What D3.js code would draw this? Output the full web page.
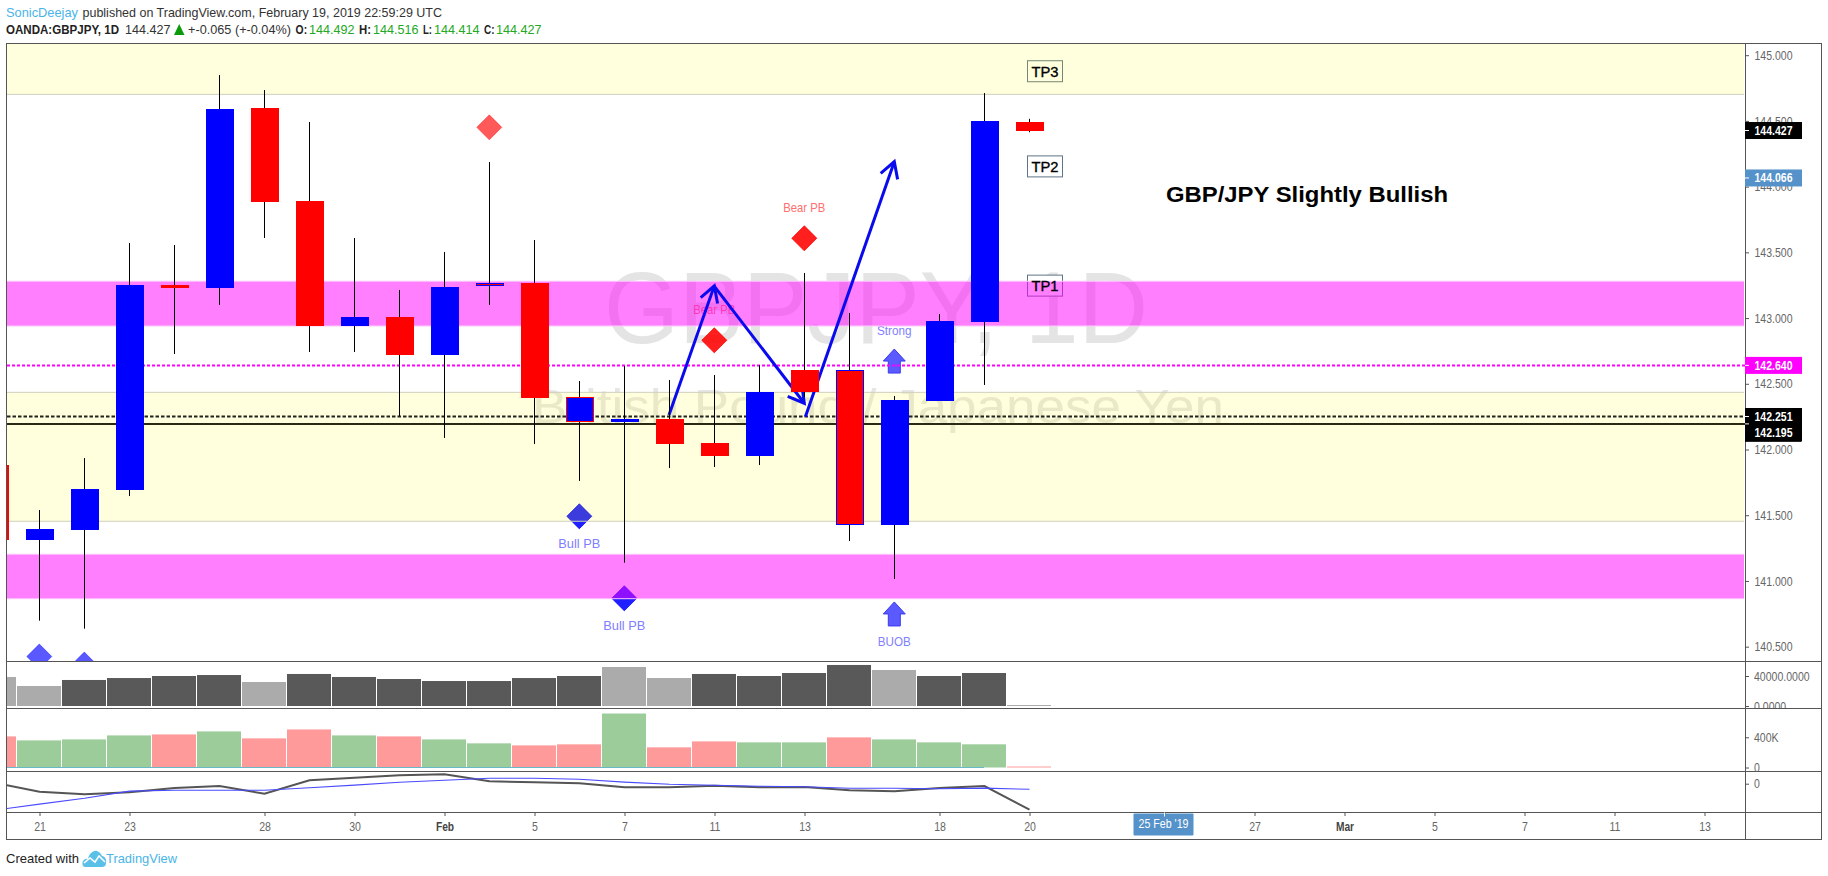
<!DOCTYPE html>
<html><head><meta charset="utf-8">
<script src="https://cdnjs.cloudflare.com/ajax/libs/d3/7.8.5/d3.min.js"></script>
<style>html,body{margin:0;padding:0;background:#fff;overflow:hidden}svg{display:block}text{font-family:"Liberation Sans",Arial,sans-serif}</style>
</head><body><div id="c"></div>
<script>
// ---------- data ----------
const sessions=["Jan 18","Jan 21","Jan 22","Jan 23","Jan 24","Jan 25","Jan 28","Jan 29","Jan 30","Jan 31","Feb 1","Feb 4","Feb 5","Feb 6","Feb 7","Feb 8","Feb 11","Feb 12","Feb 13","Feb 14","Feb 15","Feb 18","Feb 19","Feb 20"];
const opens =[141.882,141.312,141.388,141.692,143.252,143.229,144.598,143.891,142.940,143.008,142.719,143.267,143.267,142.209,142.209,142.232,142.050,141.951,142.605,142.605,141.426,142.369,142.970,144.492];
const highs =[141.882,141.540,141.935,143.571,143.556,144.849,144.735,144.492,143.609,143.214,143.503,144.187,143.594,142.521,142.635,142.529,142.567,142.643,143.343,143.039,142.407,143.031,144.712,144.516];
const lows  =[141.312,140.698,140.637,141.646,142.727,143.100,143.609,142.742,142.742,142.255,142.088,143.100,142.042,141.761,141.139,141.859,141.867,141.882,142.400,141.304,141.015,142.369,142.491,144.414];
const closes=[141.312,141.395,141.700,143.252,143.229,144.591,143.883,142.940,143.008,142.719,143.236,143.244,142.392,142.400,142.232,142.042,141.951,142.434,142.434,141.426,142.377,142.978,144.499,144.427];
const outlined=["Feb 4","Feb 6","Feb 14"];
const volumes=[38700,26700,34700,37300,40000,41300,32000,42700,38700,36000,33300,33300,37300,40000,52000,37300,42700,40000,44000,54700,48000,40000,44000,1300];
const lightVolume=["Jan 18","Jan 21","Jan 28","Feb 7","Feb 8","Feb 15","Feb 20"];
const histValues=[412,359,372,425,438,478,386,504,425,412,372,320,293,307,715,267,346,333,333,399,372,333,307,13];
const histRed=["Jan 18","Jan 24","Jan 28","Jan 29","Jan 31","Feb 5","Feb 6","Feb 8","Feb 11","Feb 14","Feb 20"];
const oscFast=[0.05,-0.40,-0.53,-0.43,-0.22,-0.12,-0.50,0.17,0.30,0.42,0.47,0.12,0.07,0.02,-0.18,-0.18,-0.10,-0.18,-0.17,-0.33,-0.38,-0.22,-0.12,-1.30];
const oscSlow=[-1.32,-1.02,-0.73,-0.37,-0.33,-0.33,-0.33,-0.20,-0.07,0.07,0.17,0.27,0.27,0.22,0.08,-0.03,-0.08,-0.13,-0.15,-0.23,-0.23,-0.25,-0.22,-0.28];
const zoneTop=[145.2,143.280,142.435,141.203];
const zoneBottom=[144.702,142.940,141.454,140.865];
const zoneKind=["y","m","y","m"];
const priceLineValues=[142.640,142.251,142.195];
const diamondDay=["Jan 21","Jan 22","Feb 4","Feb 6","Feb 7","Feb 11","Feb 13"];
const diamondPrice=[140.425,140.364,144.451,141.492,140.868,142.831,143.607];
const diamondKind=["bull","bull","bear","bull","bull","bear","bear"];
const diamondLayers=[1,1,1,2,2,2,2];
const diamondLabel=["","","","Bull PB","Bull PB","Bear PB","Bear PB"];
const upArrowDay=["Feb 15","Feb 15"];
const upArrowPrice=[142.673,140.749];
const upArrowLabel=["Strong","BUOB"];
const tradeFromDay=["Feb 8","Feb 11","Feb 13"];
const tradeFromPrice=[142.263,143.245,142.250];
const tradeToDay=["Feb 11","Feb 13","Feb 15"];
const tradeToPrice=[143.245,142.352,144.190];
const targetLabels=["TP3","TP2","TP1"];
const targetPrice=[144.878,144.154,143.247];
const priceTicks=[145,144.5,144,143.5,143,142.5,142,141.5,141,140.5];
const timeTickDay=[1,3,6,8,10,12,14,16,18,21,23,26,28,30,32,34,36,38];
const timeTickText=["21","23","28","30","Feb","5","7","11","13","18","20","25 Feb '19","27","Mar","5","7","11","13"];
const volumeTicks=[40000,0];
const histTicks=[400,0];
const priceTags=[[144.427,"#000"],[144.066,"#5592c9"],[142.640,"#ff00ff"]];

// ---------- layout ----------
const W=1828,H=876,L=6.5,R=1821.5,AX=1745,T=43.5,P1=661.5,P2=708.5,P3=771.5,P4=812.5,B=839.5;
const svg=d3.select("#c").append("svg").attr("width",W).attr("height",H);
const x=d3.scaleLinear().domain([0,39]).range([-5,1750]);
const px=d=>x(sessions.indexOf(d));
const y=d3.scaleLinear().domain([145.089,140.391]).range([43.5,661]);
const yVol=d3.scaleLinear().domain([0,40000]).range([706,676]);
const yHist=d3.scaleLinear().domain([0,400]).range([767.5,737.3]);
const yOsc=d3.scaleLinear().domain([0,1]).range([783.7,763.7]);
const defs=svg.append("defs");
const clip=(id,a,b)=>defs.append("clipPath").attr("id",id).append("rect").attr("x",7).attr("y",a).attr("width",AX-7).attr("height",b-a);
clip("cMain",44,661);clip("cVol",662,708);clip("cHist",709,771);clip("cOsc",772,812);
defs.append("clipPath").attr("id","cVolAxis").append("rect").attr("x",AX).attr("y",662).attr("width",80).attr("height",46);
defs.append("clipPath").attr("id","cHistAxis").append("rect").attr("x",AX).attr("y",709).attr("width",80).attr("height",62);

function squeeze(sel,k){sel.each(function(){const l=this.getComputedTextLength();d3.select(this).attr("textLength",l*k).attr("lengthAdjust","spacingAndGlyphs");});return sel;}
function label(g,tx,ty,s,o={}){
  const t=g.append("text").attr("x",tx).attr("y",ty).text(s).attr("font-size",o.size||12).attr("fill",o.fill||"#222")
    .attr("font-weight",o.weight||"normal").attr("text-anchor",o.anchor||"start");
  if(o.w) t.attr("textLength",o.w).attr("lengthAdjust","spacingAndGlyphs");
  else if(o.k) squeeze(t,o.k);
  return t;
}

// ---------- main pane ----------
const main=svg.append("g").attr("clip-path","url(#cMain)");
label(main,876,343,"GBPJPY, 1D",{size:102,fill:"#e4e4e4",anchor:"middle",w:544});
label(main,878,423,"British Pound / Japanese Yen",{size:49,fill:"#e6e6e6",anchor:"middle",w:692});

// markers sit under the zones
const markers=main.append("g");
const symD=d3.symbol().type(d3.symbolSquare).size(312);
diamondDay.forEach((d,i)=>{
  const c=diamondKind[i]==="bull"?"rgba(0,0,255,.65)":"rgba(255,0,0,.65)";
  const cx=px(d)-.7,cy=y(diamondPrice[i]);
  for(let n=0;n<diamondLayers[i];n++)
    markers.append("path").attr("d",symD()).attr("transform",`translate(${cx},${cy}) rotate(45)`).attr("fill",c).attr("stroke",c).attr("stroke-width",.6).attr("stroke-linejoin","round");
  if(diamondLabel[i]){
    const bull=diamondKind[i]==="bull";
    label(markers,cx,cy+(bull?31.5:-26.7),diamondLabel[i],{size:13,fill:bull?"#7f7fff":"#ff6f6f",anchor:"middle",w:diamondLabel[i].length*6});
  }
});
const arrowLine=d3.line();
upArrowDay.forEach((d,i)=>{
  const cx=px(d)-.7,cy=y(upArrowPrice[i]);
  const pts=[[0,-12],[11,0],[6,0],[6,12],[-6,12],[-6,0],[-11,0]];
  markers.append("path").attr("d",arrowLine(pts)+"Z").attr("transform",`translate(${cx},${cy})`).attr("fill","#5a5aff").attr("stroke","#3a3aee").attr("stroke-width",1);
  label(markers,cx,cy+(i===0?-26:32),upArrowLabel[i],{size:13,fill:"#7f7fff",anchor:"middle",w:upArrowLabel[i].length===6?34.5:33});
});

// target boxes
targetLabels.forEach((s,i)=>{
  const cy=y(targetPrice[i]);
  main.append("rect").attr("x",1027.5).attr("y",cy-10.5).attr("width",35).attr("height",21).attr("fill","#fff").attr("stroke","#5f7587").attr("stroke-width",1);
});
label(main,1166,201.5,"GBP/JPY Slightly Bullish",{size:22,fill:"#000",weight:"bold",w:282});

// zones
zoneTop.forEach((t,i)=>{
  const m=zoneKind[i]==="m";
  main.append("rect").attr("x",7).attr("width",AX-1-7).attr("y",y(t)).attr("height",y(zoneBottom[i])-y(t))
    .attr("fill",m?"rgba(255,0,255,.5)":"rgba(255,255,0,.135)");
  [t,zoneBottom[i]].forEach(v=>{ if(v<145.089) main.append("line").attr("x1",7).attr("x2",AX-1).attr("y1",y(v)).attr("y2",y(v)).attr("stroke",m?"#ffc2ff":"#cfcfbd").attr("stroke-width",1); });
});
targetLabels.forEach((s,i)=>{
  label(main,1045,y(targetPrice[i])+5.5,s,{size:15,fill:"#000",anchor:"middle",w:27}).attr("stroke","#000").attr("stroke-width",.35);
});

// horizontal lines
main.append("line").attr("x1",7).attr("x2",AX).attr("y1",y(priceLineValues[0])).attr("y2",y(priceLineValues[0])).attr("stroke","#ff00ff").attr("stroke-width",2).attr("stroke-dasharray","3 2");
main.append("line").attr("x1",7).attr("x2",AX).attr("y1",y(priceLineValues[1])).attr("y2",y(priceLineValues[1])).attr("stroke","#222").attr("stroke-width",2).attr("stroke-dasharray","3.5 2");
main.append("line").attr("x1",7).attr("x2",AX).attr("y1",y(priceLineValues[2])).attr("y2",y(priceLineValues[2])).attr("stroke","#2a2a14").attr("stroke-width",2);

// trade arrows
tradeFromDay.forEach((d,i)=>{
  const x1=px(d)-1+(i===2?1.4:0),y1=y(tradeFromPrice[i]),x2=px(tradeToDay[i])-.7,y2=y(tradeToPrice[i]);
  const a=Math.atan2(y2-y1,x2-x1),len=18,sp=.52;
  const g=main.append("g").attr("fill","none").attr("stroke","#0a0aee").attr("stroke-width",3);
  g.append("path").attr("d",arrowLine([[x1,y1],[x2,y2]]));
  g.append("path").attr("d",arrowLine([[x2-len*Math.cos(a-sp),y2-len*Math.sin(a-sp)],[x2,y2],[x2-len*Math.cos(a+sp),y2-len*Math.sin(a+sp)]]));
});

// candles
const cg=main.append("g");
sessions.forEach((d,i)=>{
  const cx=x(i);
  cg.append("rect").attr("x",cx-1).attr("width",1).attr("y",y(highs[i])).attr("height",y(lows[i])-y(highs[i])).attr("fill","#000");
});
sessions.forEach((d,i)=>{
  const cx=x(i),up=closes[i]>=opens[i],fill=up?"#0000ff":"#ff0000";
  const top=Math.round(y(Math.max(opens[i],closes[i]))),bot=Math.round(y(Math.min(opens[i],closes[i])));
  const r=cg.append("rect").attr("fill",fill);
  if(outlined.includes(d)) r.attr("x",cx-13.5).attr("width",27).attr("y",top+.5).attr("height",Math.max(bot-top-1,1)).attr("stroke",up?"#ff0000":"#0000ff").attr("stroke-width",1);
  else r.attr("x",cx-14).attr("width",28).attr("y",top).attr("height",Math.max(bot-top,1));
});

// ---------- volume pane ----------
const vol=svg.append("g").attr("clip-path","url(#cVol)");
vol.selectAll("rect").data(sessions).join("rect")
  .attr("x",(d,i)=>x(i)-23).attr("width",44)
  .attr("y",(d,i)=>yVol(volumes[i])).attr("height",(d,i)=>yVol(0)-yVol(volumes[i]))
  .attr("fill",d=>lightVolume.includes(d)?"#ababab":"#595959");

// ---------- histogram pane ----------
const hist=svg.append("g").attr("clip-path","url(#cHist)");
hist.selectAll("rect").data(sessions).join("rect")
  .attr("x",(d,i)=>x(i)-23).attr("width",44)
  .attr("y",(d,i)=>yHist(histValues[i])).attr("height",(d,i)=>yHist(0)-yHist(histValues[i]))
  .attr("fill",d=>histRed.includes(d)?"#ff9a9a":"#9ccc9a");
hist.append("line").attr("x1",7).attr("x2",x(sessions.length-2)-1).attr("y1",yHist(0)).attr("y2",yHist(0)).attr("stroke","#68b8c8").attr("stroke-width",1);

// ---------- oscillator pane ----------
const osc=svg.append("g").attr("clip-path","url(#cOsc)");
const oscLine=s=>d3.line().x((d,i)=>x(i)-.5).y(d=>yOsc(d))(s);
osc.append("path").attr("d",oscLine(oscFast)).attr("fill","none").attr("stroke","#555").attr("stroke-width",2);
osc.append("path").attr("d",oscLine(oscSlow)).attr("fill","none").attr("stroke","#4a4aff").attr("stroke-width",1.1);

// ---------- frame ----------
const frame=svg.append("g").attr("stroke","#555").attr("stroke-width",1);
frame.append("rect").attr("x",L).attr("y",T).attr("width",R-L).attr("height",B-T).attr("fill","none");
[P1,P2,P3,P4].forEach(v=>frame.append("line").attr("x1",L).attr("x2",R).attr("y1",v).attr("y2",v));
frame.append("line").attr("x1",AX+.5).attr("x2",AX+.5).attr("y1",T).attr("y2",B);

// ---------- axes ----------
function styleAxis(g,color){
  g.select(".domain").remove();
  g.selectAll(".tick line").attr("stroke","#555");
  g.selectAll("text").attr("font-family",'"Liberation Sans",Arial,sans-serif').attr("font-size",13).attr("fill",color||"#666");
  squeeze(g.selectAll("text"),.81);
}
const axP=svg.append("g").attr("transform",`translate(${AX},0)`).call(d3.axisRight(y).tickValues(priceTicks).tickFormat(d3.format(".3f")).tickSize(4).tickPadding(5.5));
styleAxis(axP);
const axV=svg.append("g").attr("clip-path","url(#cVolAxis)").append("g").attr("transform",`translate(${AX},0)`).call(d3.axisRight(yVol).tickValues(volumeTicks).tickFormat(d3.format(".4f")).tickSize(4).tickPadding(5));
styleAxis(axV);
const axH=svg.append("g").attr("clip-path","url(#cHistAxis)").append("g").attr("transform",`translate(${AX},0)`).call(d3.axisRight(yHist).tickValues(histTicks).tickFormat(d=>d?d+"K":"0").tickSize(4).tickPadding(5));
styleAxis(axH);
const axO=svg.append("g").attr("transform",`translate(${AX},0)`).call(d3.axisRight(yOsc).tickValues([0]).tickSize(4).tickPadding(5).tickFormat(d3.format("d")));
styleAxis(axO);

// time axis
const axT=svg.append("g").attr("transform",`translate(0,${P4-.5})`).call(d3.axisBottom(x).tickValues(timeTickDay).tickFormat((d,i)=>timeTickText[i]).tickSize(4).tickPadding(6));
axT.selectAll(".tick").attr("transform",function(){const m=/translate\(([-\d.]+)/.exec(this.getAttribute("transform"));return `translate(${+m[1]-.5},0)`;});
styleAxis(axT);
axT.selectAll("text").filter(function(){return /^(Feb|Mar)$/.test(this.textContent);}).attr("fill","#444").attr("font-weight","bold");
// date tag replaces the tick's own label
axT.selectAll(".tick").filter(d=>d===26).select("text").remove();
const tagX=x(26)-.5;
const tag=svg.append("g");
tag.append("rect").attr("x",tagX-31).attr("y",P4+1).attr("width",60).attr("height",22).attr("rx",1).attr("fill","#5592c9");
tag.append("line").attr("x1",tagX).attr("x2",tagX).attr("y1",P4).attr("y2",P4+4).attr("stroke","#fff");
label(tag,tagX-1,828,timeTickText[timeTickDay.indexOf(26)],{size:13,fill:"#fff",anchor:"middle",w:50});

// price tags
const tags=svg.append("g");
function priceTag(v,color,text,cy){
  tags.append("rect").attr("x",AX).attr("y",cy-8.5).attr("width",57).attr("height",17).attr("fill",color);
  tags.append("line").attr("x1",AX).attr("x2",AX+4).attr("y1",y(v)).attr("y2",y(v)).attr("stroke","#fff");
  label(tags,AX+9.5,cy+4.3,text,{size:12.5,weight:"bold",fill:"#fff",w:38});
}
priceTags.forEach(([v,c])=>priceTag(v,c,d3.format(".3f")(v),y(v)));
tags.append("rect").attr("x",AX).attr("y",408).attr("width",56).attr("height",33.7).attr("fill","#000");
priceTag(priceLineValues[1],"#000",d3.format(".3f")(priceLineValues[1]),416.5);
priceTag(priceLineValues[2],"#000",d3.format(".3f")(priceLineValues[2]),433);

// ---------- header / footer ----------
const hd=svg.append("g");
label(hd,6,16.5,"SonicDeejay",{size:13,fill:"#4ab4e8",w:72});
label(hd,82.5,16.5,"published on TradingView.com, February 19, 2019 22:59:29 UTC",{size:13,fill:"#333",w:359.5});
label(hd,6,33.8,"OANDA:GBPJPY, 1D",{size:13,fill:"#222",weight:"bold",w:113});
label(hd,125,33.8,"144.427",{size:13,fill:"#333",w:45.5});
hd.append("path").attr("d",d3.line()([[174,35],[184.5,35],[179.2,24]])+"Z").attr("fill","#0a9a0a");
label(hd,188,33.8,"+-0.065 (+-0.04%)",{size:13,fill:"#333",w:103});
const ohlcHead=[["O:",295.6,11.5,144.492,309],["H:",359,12,144.516,373],["L:",423,9,144.414,434],["C:",484,10.5,144.427,496]];
ohlcHead.forEach(([s,a,w,v,b])=>{
  label(hd,a,33.8,s,{size:13,fill:"#222",weight:"bold",w});
  label(hd,b,33.8,d3.format(".3f")(v),{size:13,fill:"#22a822",w:45.5});
});
label(hd,6,863,"Created with",{size:13,fill:"#222",w:73});
const logo=hd.append("g").attr("transform","translate(82,850)");
logo.append("path").attr("d","M1 16 C-1 11 3 8 6 9 C7 4 11 0 15 1 C18 2 19 4 20 6 C23 6 25 10 24 13 C24 16 22 17 20 17 L4 17 C3 17 2 17 1 16Z").attr("fill","#5bc0e8");
logo.append("path").attr("d","M2 13 L8 8 L13 12 L17 6 L23 12").attr("fill","none").attr("stroke","#fff").attr("stroke-width",1.6);
label(hd,106,863,"TradingView",{size:13,fill:"#4ab4e8",w:71});
</script></body></html>
